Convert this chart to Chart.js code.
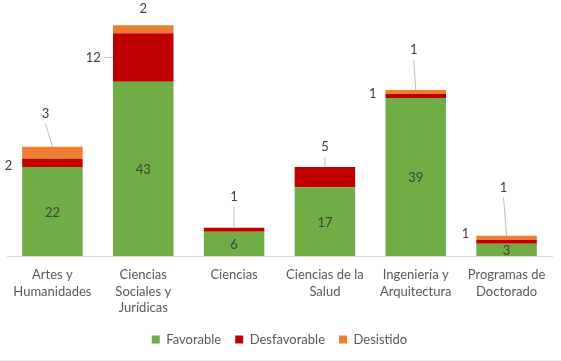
<!DOCTYPE html>
<html>
<head>
<meta charset="utf-8">
<script src="https://cdn.jsdelivr.net/npm/chart.js@4.4.1/dist/chart.umd.min.js"></script>
<style>
  html, body { margin: 0; padding: 0; background: #fff; }
  #wrap { width: 561px; height: 360px; border-bottom: 1px solid #ececec; }
</style>
</head>
<body>
<div id="wrap"><canvas id="chart" width="561" height="360"></canvas></div>
<script>
// categories (multi-line tick labels)
var categories = [
  ['Artes y', 'Humanidades'],
  ['Ciencias', 'Sociales y', 'Jurídicas'],
  ['Ciencias'],
  ['Ciencias de la', 'Salud'],
  ['Ingeniería y', 'Arquitectura'],
  ['Programas de', 'Doctorado']
];
var favorable    = [22, 43, 6, 17, 39, 3];
var desfavorable = [2, 12, 1, 5, 1, 1];
var desistido    = [3, 2, 0, 0, 1, 1];

var FONT = 'Lato, "Liberation Sans", sans-serif';

// callout placement for the small segments (offset from the segment centre)
var callouts = [
  { ds: 1, i: 0, dx: -44, dy: 3, line: null },
  { ds: 2, i: 0, dx: -7, dy: -39, line: 'down' },
  { ds: 1, i: 1, dx: -50, dy: 0, line: 'right' },
  { ds: 2, i: 1, dx: 0, dy: -20, line: null },
  { ds: 1, i: 2, dx: 0, dy: -33, line: 'down' },
  { ds: 1, i: 3, dx: 0, dy: -30, line: 'down' },
  { ds: 1, i: 4, dx: -43, dy: -2, line: null },
  { ds: 2, i: 4, dx: -2, dy: -42, line: 'down' },
  { ds: 1, i: 5, dx: -41, dy: -8, line: null },
  { ds: 2, i: 5, dx: -3, dy: -50, line: 'down' }
];

var labelPlugin = {
  id: 'labelPlugin',
  afterDatasetsDraw: function(chart) {
    var ctx = chart.ctx;
    ctx.save();
    ctx.font = '13px ' + FONT;
    ctx.fillStyle = '#404040';
    ctx.textAlign = 'center';
    ctx.textBaseline = 'middle';

    // favorable values inside the green segment
    var meta0 = chart.getDatasetMeta(0);
    meta0.data.forEach(function(bar, i) {
      ctx.fillText(String(favorable[i]), bar.x, (bar.y + bar.base) / 2 + 1);
    });

    callouts.forEach(function(c) {
      var meta = chart.getDatasetMeta(c.ds);
      var bar = meta.data[c.i];
      var value = chart.data.datasets[c.ds].data[c.i];
      if (!value) return;
      var cy = (bar.y + bar.base) / 2;
      var lx = bar.x + c.dx;
      var ly = cy + c.dy;
      ctx.fillStyle = '#404040';
      ctx.fillText(String(value), lx, ly);
      if (c.line) {
        ctx.strokeStyle = '#bfbfbf';
        ctx.lineWidth = 1;
        ctx.beginPath();
        if (c.line === 'down') {
          ctx.moveTo(lx, ly + 10);
          ctx.lineTo(bar.x, bar.y);
        } else {
          ctx.moveTo(lx + 11, ly);
          ctx.lineTo(bar.x - bar.width / 2, ly);
        }
        ctx.stroke();
      }
    });
    ctx.restore();
  }
};

var ctx = document.getElementById('chart').getContext('2d');
var chart = new Chart(ctx, {
  type: 'bar',
  data: {
    labels: categories,
    datasets: [
      { label: 'Favorable', data: favorable, backgroundColor: '#70ad47' },
      { label: 'Desfavorable', data: desfavorable, backgroundColor: '#c00000' },
      { label: 'Desistido', data: desistido, backgroundColor: '#ed7d31' }
    ]
  },
  options: {
    responsive: false,
    animation: false,
    layout: { padding: { left: 7, right: 9, top: 13, bottom: 4 } },
    datasets: {
      bar: { barPercentage: 0.666, categoryPercentage: 1, borderWidth: 0 }
    },
    plugins: {
      tooltip: { enabled: false },
      legend: {
        position: 'bottom',
        labels: {
          boxWidth: 8,
          boxHeight: 8,
          padding: 14,
          color: '#595959',
          font: { family: FONT, size: 13 }
        }
      }
    },
    scales: {
      x: {
        stacked: true,
        grid: { display: false, drawTicks: false },
        border: { display: true, color: '#d9d9d9' },
        ticks: {
          color: '#595959',
          font: { family: FONT, size: 13, lineHeight: 1.3 },
          padding: 10,
          maxRotation: 0,
          autoSkip: false
        },
        afterFit: function(scale) { scale.height = 63; }
      },
      y: {
        stacked: true,
        display: false,
        min: 0,
        max: 60
      }
    }
  },
  plugins: [labelPlugin]
});
</script>
</body>
</html>
